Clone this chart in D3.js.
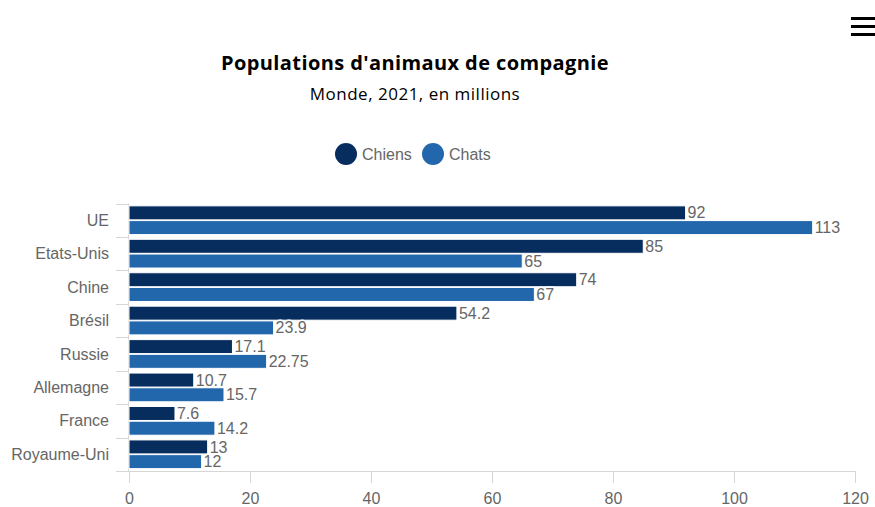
<!DOCTYPE html>
<html>
<head>
<meta charset="utf-8">
<script src="https://cdn.jsdelivr.net/npm/d3@7"></script>
<style>
  html, body { margin: 0; padding: 0; background: #fff; }
  svg { display: block; }
</style>
</head>
<body>
<svg id="chart" width="875" height="507"></svg>
<script>
// Pet populations by country, in millions (2021)
const categories = ["UE", "Etats-Unis", "Chine", "Brésil", "Russie", "Allemagne", "France", "Royaume-Uni"];
const seriesNames = ["Chiens", "Chats"];
const chiens = [92, 85, 74, 54.2, 17.1, 10.7, 7.6, 13];
const chats = [113, 65, 67, 23.9, 22.75, 15.7, 14.2, 12];
const xTicks = [0, 20, 40, 60, 80, 100, 120];
const colors = ["#072d5f", "#2266ac"];

const svg = d3.select("#chart");
const plot = { left: 129, right: 855, top: 203.5, bottom: 471 };
const axisColor = "#d6d6d6";

const x = d3.scaleLinear().domain([0, 120]).range([plot.left, plot.right]);
const y = d3.scaleBand().domain(categories).range([plot.top, plot.bottom]).padding(0);
const inner = d3.scaleBand().domain(seriesNames).range([0, y.bandwidth()]).paddingOuter(0.16).paddingInner(0.05);

const labelFont = "'Liberation Sans', Arial, sans-serif";

// Title and subtitle
svg.append("text")
  .attr("x", 415).attr("y", 70)
  .attr("text-anchor", "middle")
  .attr("font-family", "'Open Sans', sans-serif")
  .attr("font-weight", 700)
  .attr("font-size", 20)
  .attr("letter-spacing", 0.4)
  .attr("fill", "#000")
  .text("Populations d'animaux de compagnie");

svg.append("text")
  .attr("x", 415).attr("y", 100)
  .attr("text-anchor", "middle")
  .attr("font-family", "'Open Sans', sans-serif")
  .attr("font-weight", 400)
  .attr("font-size", 17)
  .attr("letter-spacing", 0.5)
  .attr("fill", "#000")
  .text("Monde, 2021, en millions");

// Menu icon
const menu = svg.append("g");
[17, 25, 33].forEach(yy => {
  menu.append("rect").attr("x", 851).attr("y", yy).attr("width", 24).attr("height", 3).attr("fill", "#000");
});

// Legend
const legend = svg.append("g").attr("font-family", labelFont).attr("font-size", 16).attr("fill", "#666");
const legendItems = [{ name: "Chiens", cx: 346, tx: 362 }, { name: "Chats", cx: 433, tx: 449 }];
legendItems.forEach((it, i) => {
  legend.append("circle").attr("cx", it.cx).attr("cy", 154).attr("r", 11).attr("fill", colors[i]);
  legend.append("text").attr("x", it.tx).attr("y", 154).attr("dy", "0.35em").text(it.name);
});

// Category axis (left)
const yAxis = svg.append("g");
yAxis.append("line")
  .attr("x1", plot.left - 0.5).attr("x2", plot.left - 0.5)
  .attr("y1", plot.top).attr("y2", plot.bottom)
  .attr("stroke", axisColor).attr("stroke-width", 1);
const boundaries = categories.map(c => y(c)).concat([plot.bottom]);
yAxis.selectAll("line.tick").data(boundaries).join("line")
  .attr("class", "tick")
  .attr("x1", 116).attr("x2", plot.left)
  .attr("y1", d => Math.round(d) + 0.5).attr("y2", d => Math.round(d) + 0.5)
  .attr("stroke", axisColor);
yAxis.selectAll("text").data(categories).join("text")
  .attr("x", 109)
  .attr("y", d => y(d) + y.bandwidth() / 2)
  .attr("dy", "0.35em")
  .attr("text-anchor", "end")
  .attr("font-family", labelFont)
  .attr("font-size", 16)
  .attr("fill", "#666")
  .text(d => d);

// Value axis (bottom)
const xAxis = svg.append("g")
  .attr("transform", `translate(0,${plot.bottom})`)
  .call(d3.axisBottom(x).tickValues(xTicks).tickSize(12).tickPadding(10).tickSizeOuter(0));
xAxis.select(".domain").remove();
xAxis.append("line")
  .attr("x1", 116).attr("x2", plot.right)
  .attr("y1", 0.5).attr("y2", 0.5)
  .attr("stroke", axisColor);
xAxis.selectAll(".tick line").attr("stroke", axisColor);
xAxis.selectAll(".tick text")
  .attr("font-family", labelFont)
  .attr("font-size", 16)
  .attr("fill", "#666");

// Bars
const rows = categories.map((c, i) => ({ cat: c, values: [chiens[i], chats[i]] }));
const groups = svg.append("g").selectAll("g").data(rows).join("g")
  .attr("transform", d => `translate(0,${y(d.cat)})`);

groups.selectAll("rect").data(d => d.values.map((v, j) => ({ v, s: seriesNames[j], j }))).join("rect")
  .attr("x", x(0))
  .attr("y", d => inner(d.s))
  .attr("width", d => x(d.v) - x(0))
  .attr("height", inner.bandwidth())
  .attr("fill", d => colors[d.j])
  .attr("stroke", "#fff")
  .attr("stroke-width", 1);

// Data labels with white halo
const labels = svg.append("g");
rows.forEach(r => {
  r.values.forEach((v, j) => {
    labels.append("text")
      .attr("x", x(v) + 2)
      .attr("y", y(r.cat) + inner(seriesNames[j]) + inner.bandwidth() / 2)
      .attr("dy", "0.35em")
      .attr("font-family", labelFont)
      .attr("font-size", 16)
      .attr("fill", "#666")
      .attr("stroke", "#fff")
      .attr("stroke-width", 3)
      .attr("stroke-linejoin", "round")
      .attr("paint-order", "stroke")
      .text(v);
  });
});
</script>
</body>
</html>
